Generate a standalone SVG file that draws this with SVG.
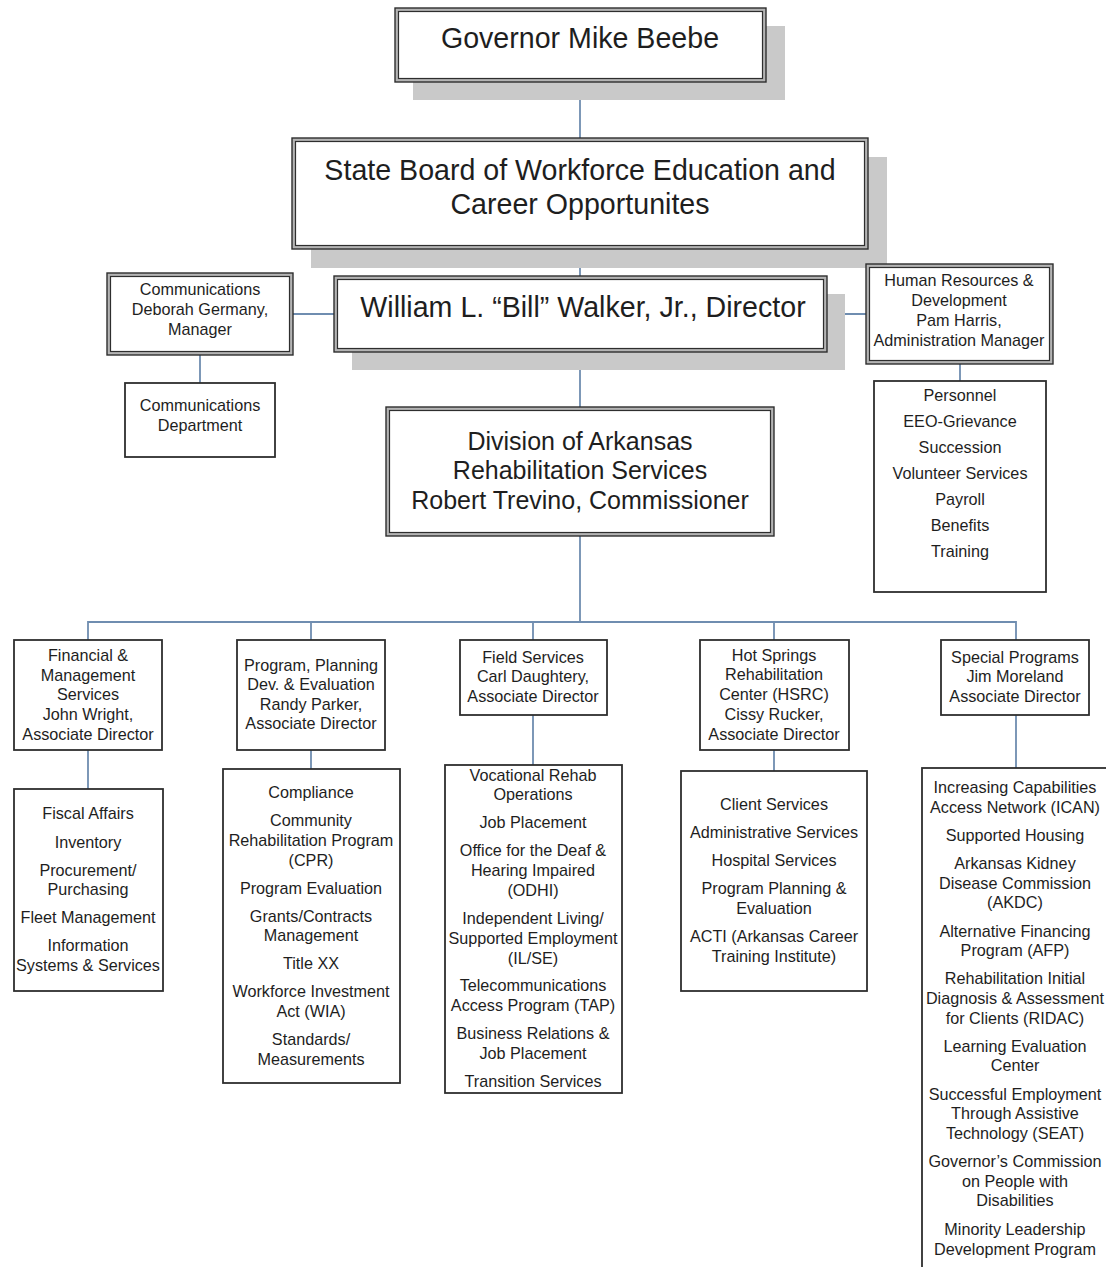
<svg xmlns="http://www.w3.org/2000/svg" width="1106" height="1267" viewBox="0 0 1106 1267">
<style>
  text { font-family: "Liberation Sans", Arial, sans-serif; fill: #1e1e1e; text-anchor: middle; }
  .big { font-size: 28.6px; }
  .mid { font-size: 25px; }
  .sm { font-size: 16.2px; }
  .shadow { fill: #c9c9c9; stroke: none; }
  .dbo { fill: #b4b4b4; stroke: #2e2e2e; stroke-width: 1.4; }
  .dbi { fill: #ffffff; stroke: #2e2e2e; stroke-width: 1.2; }
  .box { fill: #ffffff; stroke: #2e2e2e; stroke-width: 1.8; }
  .conn { stroke: #6f8db0; stroke-width: 1.8; fill: none; }
</style>
<rect width="1106" height="1267" fill="#ffffff"/>

<g id="connectors">
  <path class="conn" d="M580 82 V138 M580 248 V276 M580 352 V407 M580 536 V622"/>
  <path class="conn" d="M293 314 H335 M827 314 H866"/>
  <path class="conn" d="M200 355 V383 M960 364 V381"/>
  <path class="conn" d="M88 640 V622 H1016 V640 M311 622 V640 M533 622 V640 M774 622 V640"/>
  <path class="conn" d="M88 750 V789 M311 750 V769 M533 715 V765 M774 750 V771 M1016 715 V768"/>
</g>

<g id="governor">
  <rect class="shadow" x="413" y="26" width="372" height="74"/>
  <rect class="dbo" x="395" y="8" width="371" height="74"/>
  <rect class="dbi" x="398.5" y="11.5" width="364" height="67"/>
  <text class="big" x="580" y="48">Governor Mike Beebe</text>
</g>

<g id="state-board">
  <rect class="shadow" x="311" y="157" width="576" height="111"/>
  <rect class="dbo" x="292" y="138" width="576" height="111"/>
  <rect class="dbi" x="295.5" y="141.5" width="569" height="104"/>
  <text class="big" x="580" y="180">State Board of Workforce Education and</text>
  <text class="big" x="580" y="214">Career Opportunites</text>
</g>

<g id="director">
  <rect class="shadow" x="352" y="294" width="493" height="76"/>
  <rect class="dbo" x="334" y="276" width="493" height="76"/>
  <rect class="dbi" x="337.5" y="279.5" width="486" height="69"/>
  <text class="big" x="583" y="317">William L. “Bill” Walker, Jr., Director</text>
</g>

<g id="communications">
  <rect class="dbo" x="107" y="273" width="186" height="82"/>
  <rect class="dbi" x="110.5" y="276.5" width="179" height="75"/>
  <text class="sm" x="200" y="295">Communications</text>
  <text class="sm" x="200" y="315">Deborah Germany,</text>
  <text class="sm" x="200" y="335">Manager</text>
</g>

<g id="communications-department">
  <rect class="box" x="125" y="383" width="150" height="74"/>
  <text class="sm" x="200" y="411">Communications</text>
  <text class="sm" x="200" y="431">Department</text>
</g>

<g id="human-resources">
  <rect class="dbo" x="866" y="264" width="187" height="100"/>
  <rect class="dbi" x="869.5" y="267.5" width="180" height="93"/>
  <text class="sm" x="959" y="286">Human Resources &amp;</text>
  <text class="sm" x="959" y="306">Development</text>
  <text class="sm" x="959" y="326">Pam Harris,</text>
  <text class="sm" x="959" y="346">Administration Manager</text>
</g>

<g id="hr-list">
  <rect class="box" x="874" y="381" width="172" height="211"/>
  <text class="sm" x="960" y="401">Personnel</text>
  <text class="sm" x="960" y="427">EEO-Grievance</text>
  <text class="sm" x="960" y="453">Succession</text>
  <text class="sm" x="960" y="479">Volunteer Services</text>
  <text class="sm" x="960" y="505">Payroll</text>
  <text class="sm" x="960" y="531">Benefits</text>
  <text class="sm" x="960" y="557">Training</text>
</g>

<g id="division">
  <rect class="dbo" x="386" y="407" width="388" height="129"/>
  <rect class="dbi" x="389.5" y="410.5" width="381" height="122"/>
  <text class="mid" x="580" y="450">Division of Arkansas</text>
  <text class="mid" x="580" y="479">Rehabilitation Services</text>
  <text class="mid" x="580" y="509">Robert Trevino, Commissioner</text>
</g>

<g id="financial">
  <rect class="box" x="14" y="640" width="148" height="110"/>
  <text class="sm" x="88" y="661">Financial &amp;</text>
  <text class="sm" x="88" y="681">Management</text>
  <text class="sm" x="88" y="700">Services</text>
  <text class="sm" x="88" y="720">John Wright,</text>
  <text class="sm" x="88" y="740">Associate Director</text>
</g>

<g id="program-planning">
  <rect class="box" x="237" y="640" width="148" height="110"/>
  <text class="sm" x="311" y="671">Program, Planning</text>
  <text class="sm" x="311" y="690">Dev. &amp; Evaluation</text>
  <text class="sm" x="311" y="710">Randy Parker,</text>
  <text class="sm" x="311" y="729">Associate Director</text>
</g>

<g id="field-services">
  <rect class="box" x="460" y="640" width="147" height="75"/>
  <text class="sm" x="533" y="663">Field Services</text>
  <text class="sm" x="533" y="682">Carl Daughtery,</text>
  <text class="sm" x="533" y="702">Associate Director</text>
</g>

<g id="hot-springs">
  <rect class="box" x="700" y="640" width="149" height="110"/>
  <text class="sm" x="774" y="661">Hot Springs</text>
  <text class="sm" x="774" y="680">Rehabilitation</text>
  <text class="sm" x="774" y="700">Center (HSRC)</text>
  <text class="sm" x="774" y="720">Cissy Rucker,</text>
  <text class="sm" x="774" y="740">Associate Director</text>
</g>

<g id="special-programs">
  <rect class="box" x="941" y="640" width="148" height="75"/>
  <text class="sm" x="1015" y="663">Special Programs</text>
  <text class="sm" x="1015" y="682">Jim Moreland</text>
  <text class="sm" x="1015" y="702">Associate Director</text>
</g>

<g id="financial-list">
  <rect class="box" x="14" y="789" width="149" height="202"/>
  <text class="sm" x="88" y="819">Fiscal Affairs</text>
  <text class="sm" x="88" y="848">Inventory</text>
  <text class="sm" x="88" y="876">Procurement/</text>
  <text class="sm" x="88" y="895">Purchasing</text>
  <text class="sm" x="88" y="923">Fleet Management</text>
  <text class="sm" x="88" y="951">Information</text>
  <text class="sm" x="88" y="971">Systems &amp; Services</text>
</g>

<g id="program-list">
  <rect class="box" x="223" y="769" width="177" height="314"/>
  <text class="sm" x="311" y="798">Compliance</text>
  <text class="sm" x="311" y="826">Community</text>
  <text class="sm" x="311" y="846">Rehabilitation Program</text>
  <text class="sm" x="311" y="866">(CPR)</text>
  <text class="sm" x="311" y="894">Program Evaluation</text>
  <text class="sm" x="311" y="922">Grants/Contracts</text>
  <text class="sm" x="311" y="941">Management</text>
  <text class="sm" x="311" y="969">Title XX</text>
  <text class="sm" x="311" y="997">Workforce Investment</text>
  <text class="sm" x="311" y="1017">Act (WIA)</text>
  <text class="sm" x="311" y="1045">Standards/</text>
  <text class="sm" x="311" y="1065">Measurements</text>
</g>

<g id="field-list">
  <rect class="box" x="445" y="765" width="177" height="328"/>
  <text class="sm" x="533" y="781">Vocational Rehab</text>
  <text class="sm" x="533" y="800">Operations</text>
  <text class="sm" x="533" y="828">Job Placement</text>
  <text class="sm" x="533" y="856">Office for the Deaf &amp;</text>
  <text class="sm" x="533" y="876">Hearing Impaired</text>
  <text class="sm" x="533" y="896">(ODHI)</text>
  <text class="sm" x="533" y="924">Independent Living/</text>
  <text class="sm" x="533" y="944">Supported Employment</text>
  <text class="sm" x="533" y="964">(IL/SE)</text>
  <text class="sm" x="533" y="991">Telecommunications</text>
  <text class="sm" x="533" y="1011">Access Program (TAP)</text>
  <text class="sm" x="533" y="1039">Business Relations &amp;</text>
  <text class="sm" x="533" y="1059">Job Placement</text>
  <text class="sm" x="533" y="1087">Transition Services</text>
</g>

<g id="hot-springs-list">
  <rect class="box" x="681" y="771" width="186" height="220"/>
  <text class="sm" x="774" y="810">Client Services</text>
  <text class="sm" x="774" y="838">Administrative Services</text>
  <text class="sm" x="774" y="866">Hospital Services</text>
  <text class="sm" x="774" y="894">Program Planning &amp;</text>
  <text class="sm" x="774" y="914">Evaluation</text>
  <text class="sm" x="774" y="942">ACTI (Arkansas Career</text>
  <text class="sm" x="774" y="962">Training Institute)</text>
</g>

<g id="special-list">
  <rect class="box" x="922" y="768" width="190" height="510"/>
  <text class="sm" x="1015" y="793">Increasing Capabilities</text>
  <text class="sm" x="1015" y="813">Access Network (ICAN)</text>
  <text class="sm" x="1015" y="841">Supported Housing</text>
  <text class="sm" x="1015" y="869">Arkansas Kidney</text>
  <text class="sm" x="1015" y="889">Disease Commission</text>
  <text class="sm" x="1015" y="908">(AKDC)</text>
  <text class="sm" x="1015" y="937">Alternative Financing</text>
  <text class="sm" x="1015" y="956">Program (AFP)</text>
  <text class="sm" x="1015" y="984">Rehabilitation Initial</text>
  <text class="sm" x="1015" y="1004">Diagnosis &amp; Assessment</text>
  <text class="sm" x="1015" y="1024">for Clients (RIDAC)</text>
  <text class="sm" x="1015" y="1052">Learning Evaluation</text>
  <text class="sm" x="1015" y="1071">Center</text>
  <text class="sm" x="1015" y="1100">Successful Employment</text>
  <text class="sm" x="1015" y="1119">Through Assistive</text>
  <text class="sm" x="1015" y="1139">Technology (SEAT)</text>
  <text class="sm" x="1015" y="1167">Governor’s Commission</text>
  <text class="sm" x="1015" y="1187">on People with</text>
  <text class="sm" x="1015" y="1206">Disabilities</text>
  <text class="sm" x="1015" y="1235">Minority Leadership</text>
  <text class="sm" x="1015" y="1255">Development Program</text>
</g>
</svg>
